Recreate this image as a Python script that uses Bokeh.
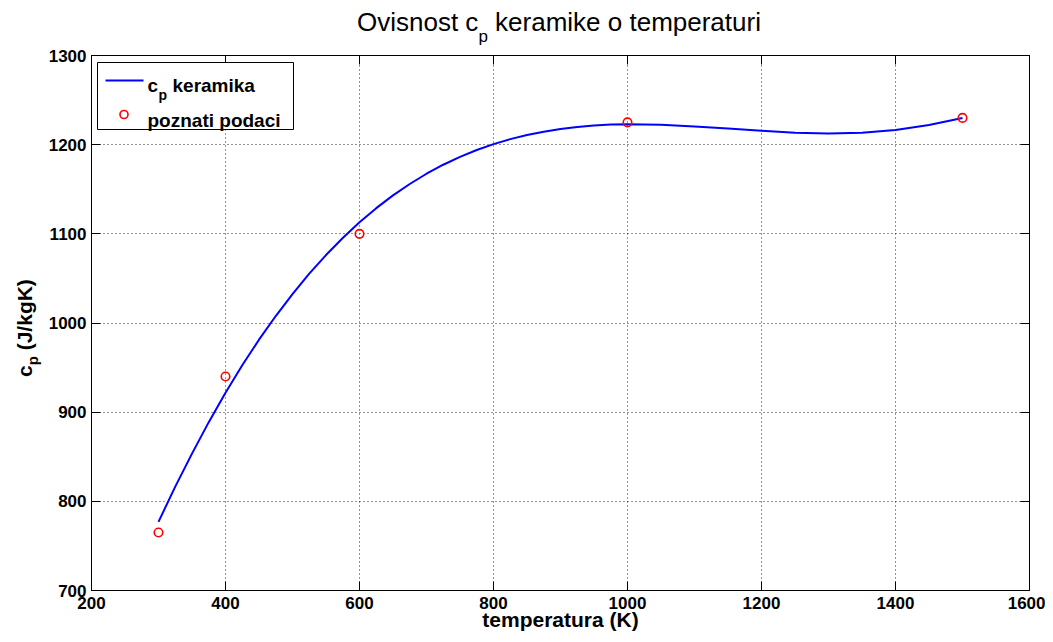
from bokeh.plotting import figure
from bokeh.models import Label, BoxAnnotation, LinearAxis, Range1d, FixedTicker, Div
from bokeh.layouts import column, row
from bokeh.embed import file_html
from bokeh.resources import INLINE

# ---- data ----
x_ticks = [200, 400, 600, 800, 1000, 1200, 1400, 1600]
y_ticks = [700, 800, 900, 1000, 1100, 1200, 1300]

curve_T = [300, 325, 350, 375, 400, 425, 450, 475, 500, 525, 550, 575, 600, 625, 650, 675,
           700, 725, 750, 775, 800, 825, 850, 875, 900, 925, 950, 975, 1000,
           1050, 1100, 1150, 1200, 1250, 1300, 1350, 1400, 1450, 1500]
curve_cp = [777, 816.5, 853.5, 888.8, 921.8, 952.6, 981.3, 1007.8, 1032.5, 1055.3, 1076.2,
            1095.4, 1112.9, 1128.8, 1143.1, 1155.9, 1167.4, 1177.5, 1186.3, 1194.0, 1200.6,
            1206.2, 1210.8, 1214.6, 1217.5, 1219.9, 1221.5, 1222.5, 1223,
            1222.2, 1220.5, 1218.2, 1215.6, 1213.5, 1212.5, 1213.3, 1216.5, 1222, 1230]

known_T = [300, 400, 600, 1000, 1500]
known_cp = [765, 940, 1100, 1225, 1230]

FONT = "Liberation Sans"

# ---- layout (page pixels) ----
TITLE_H = 47          # title strip height
YLAB_W = 45           # y-label strip width
FRAME_L, FRAME_R, FRAME_T, FRAME_B = 91, 1029, 55, 590
PAGE_W, PAGE_H = 1045, 642

W = PAGE_W - YLAB_W
H = PAGE_H - TITLE_H
ML = FRAME_L - YLAB_W
MR = PAGE_W - FRAME_R
MT = FRAME_T - TITLE_H
MB = PAGE_H - FRAME_B

p = figure(width=W, height=H, x_range=Range1d(200, 1600), y_range=Range1d(700, 1300),
           output_backend="svg", toolbar_location=None,
           min_border_left=ML, min_border_right=MR, min_border_top=MT, min_border_bottom=MB)
p.background_fill_color = "white"
p.border_fill_color = "white"
p.outline_line_color = "black"
p.outline_line_width = 1

for ax, ticks in ((p.xaxis[0], x_ticks), (p.yaxis[0], y_ticks)):
    ax.ticker = FixedTicker(ticks=ticks)
    ax.axis_line_color = "black"
    ax.major_tick_line_color = "black"
    ax.major_tick_in = 9
    ax.major_tick_out = 0
    ax.minor_tick_line_color = None
    ax.major_label_text_font = FONT
    ax.major_label_text_font_style = "bold"
    ax.major_label_text_font_size = "17px"
    ax.major_label_text_color = "black"
p.xaxis[0].major_label_standoff = 6
p.yaxis[0].major_label_standoff = 5

xa = p.xaxis[0]
xa.axis_label = "temperatura (K)"
xa.axis_label_text_font = FONT
xa.axis_label_text_font_style = "bold"
xa.axis_label_text_font_size = "21px"
xa.axis_label_text_color = "black"
xa.axis_label_standoff = -4

# box axes on top and right: ticks only (as minor ticks, so no labels are drawn)
top = LinearAxis(ticker=FixedTicker(ticks=[], minor_ticks=x_ticks),
                 major_tick_line_color=None, minor_tick_in=9, minor_tick_out=0,
                 minor_tick_line_color="black", axis_line_color="black")
right = LinearAxis(ticker=FixedTicker(ticks=[], minor_ticks=y_ticks),
                   major_tick_line_color=None, minor_tick_in=9, minor_tick_out=0,
                   minor_tick_line_color="black", axis_line_color="black")
p.add_layout(top, "above")
p.add_layout(right, "right")

for g, ticks in ((p.xgrid[0], x_ticks), (p.ygrid[0], y_ticks)):
    g.ticker = FixedTicker(ticks=ticks)
    g.grid_line_color = "black"
    g.grid_line_alpha = 0.85
    g.grid_line_dash = "1 3"
    g.grid_line_width = 1

p.line(curve_T, curve_cp, line_color="#0000ff", line_width=2, line_join="round")
p.scatter(known_T, known_cp, marker="circle", size=8.5, fill_color=None,
          line_color="#ff0000", line_width=1.6)

# page-pixel -> data helpers for the legend (inside the frame)
def dx(px):
    return 200 + (px - FRAME_L) * 1400.0 / (FRAME_R - FRAME_L)
def dy(py):
    return 1300 - (py - FRAME_T) * 600.0 / (FRAME_B - FRAME_T)

def lab(text, px, py, size, style="bold"):
    p.add_layout(Label(x=dx(px), y=dy(py), text=text, text_font=FONT,
                       text_font_size=f"{size}px", text_font_style=style,
                       text_color="black", text_baseline="alphabetic", text_align="left"))

# legend
p.add_layout(BoxAnnotation(left=dx(97), right=dx(293), top=dy(62), bottom=dy(129),
                           fill_color="white", fill_alpha=1, line_color="black",
                           line_width=1, line_alpha=1))
p.add_layout(BoxAnnotation(left=dx(105), right=dx(143), top=dy(79), bottom=dy(81),
                           fill_color="#0000ff", fill_alpha=1, line_color=None))
p.scatter([dx(123.5)], [dy(114)], marker="circle", size=8, fill_color=None,
          line_color="#ff0000", line_width=1.6, level="overlay")
lab("c", 147, 85, 19)
lab("p", 158, 94, 14)
lab("keramika", 172, 85, 19)
lab("poznati podaci", 147, 120, 19)

# title strip (HTML text with a real subscript)
title_html = (
    '<div style="padding-left:357px; padding-top:8px; white-space:nowrap; '
    "font-family:'Liberation Sans'; font-size:26px; line-height:1.15; color:black;\">"
    'Ovisnost c<span style="font-size:17px; vertical-align:-11px;">p</span>'
    ' keramike o temperaturi</div>'
)
title_div = Div(text=title_html, width=PAGE_W, height=TITLE_H, margin=(0, 0, 0, 0),
                styles={"overflow": "visible"})

# y label strip (rotated HTML text)
ylab_top = 377 - TITLE_H
ylab_html = (
    f'<div style="padding-top:{ylab_top}px; padding-left:13px;">'
    '<div style="transform:rotate(-90deg); transform-origin:left top; white-space:nowrap; '
    "font-family:'Liberation Sans'; font-weight:bold; font-size:21px; line-height:1.15; "
    'color:black;">'
    'c<span style="font-size:15px; vertical-align:-6px;">p</span> (J/kgK)</div></div>'
)
ylab_div = Div(text=ylab_html, width=YLAB_W, height=H, margin=(0, 0, 0, 0),
               styles={"overflow": "visible"})

layout = column(title_div, row(ylab_div, p, spacing=0), spacing=0)

open("out.html", "w").write(file_html(layout, INLINE))
